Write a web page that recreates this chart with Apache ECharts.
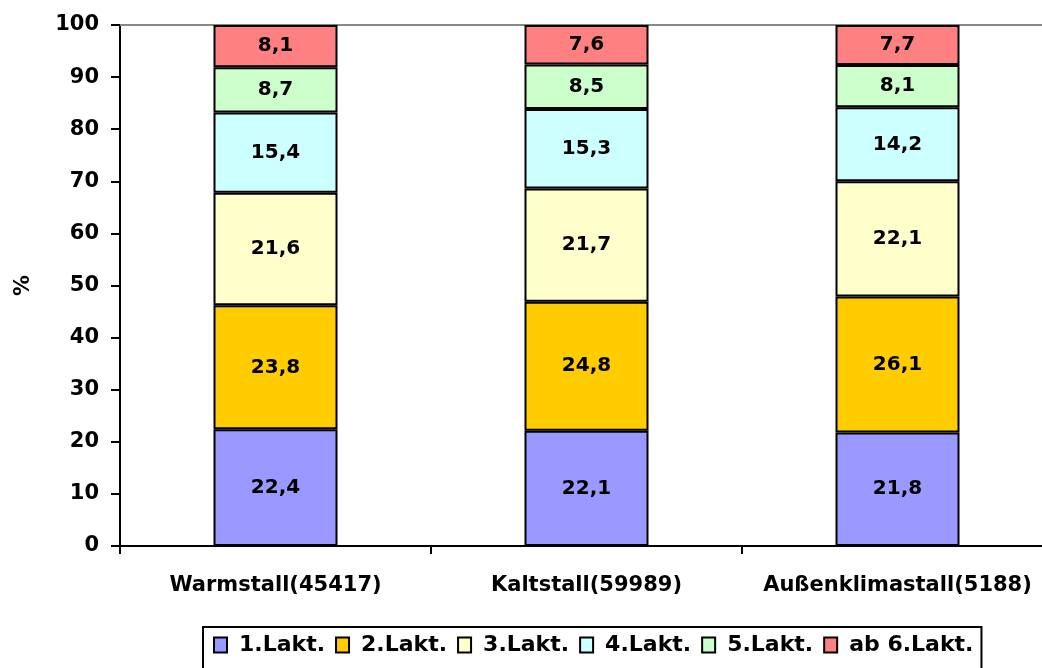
<!DOCTYPE html>
<html>
<head>
<meta charset="utf-8">
<script src="https://cdn.jsdelivr.net/npm/echarts@6/dist/echarts.min.js"></script>
<style>
  html, body { margin: 0; padding: 0; background: #fff; overflow: hidden; }
  #chart { width: 1042px; height: 668px; }
</style>
</head>
<body>
<div id="chart"></div>
<script>
  // Laktationsverteilung je Stallart (%)
  var categories = ['Warmstall(45417)', 'Kaltstall(59989)', 'Außenklimastall(5188)'];
  var seriesNames = ['1.Lakt.', '2.Lakt.', '3.Lakt.', '4.Lakt.', '5.Lakt.', 'ab 6.Lakt.'];
  var lakt1 = [22.4, 22.1, 21.8];
  var lakt2 = [23.8, 24.8, 26.1];
  var lakt3 = [21.6, 21.7, 22.1];
  var lakt4 = [15.4, 15.3, 14.2];
  var lakt5 = [8.7, 8.5, 8.1];
  var lakt6 = [8.1, 7.6, 7.7];
  var yTicks = [0, 10, 20, 30, 40, 50, 60, 70, 80, 90, 100];

  var colors = ['#9999ff', '#ffcc00', '#ffffcc', '#ccffff', '#ccffcc', '#ff8080'];
  var values = [lakt1, lakt2, lakt3, lakt4, lakt5, lakt6];
  var font = 'DejaVu Sans';

  var chart = echarts.init(document.getElementById('chart'));

  var series = seriesNames.map(function (name, i) {
    return {
      name: name,
      type: 'bar',
      stack: 'total',
      barWidth: 124,
      data: values[i],
      itemStyle: { color: colors[i], borderColor: '#000', borderWidth: 2 },
      label: {
        show: true,
        position: 'inside',
        color: '#000',
        fontFamily: font,
        fontWeight: 'bold',
        fontSize: 20,
        formatter: function (p) { return String(p.value).replace('.', ','); }
      }
    };
  });

  chart.setOption({
    animation: false,
    grid: { left: 120, top: 25, width: 933, bottom: 122, outerBoundsMode: 'none' },
    legend: {
      data: seriesNames,
      icon: 'rect',
      left: 203,
      top: 627,
      padding: [7, 8, 14, 10],
      borderColor: '#000',
      borderWidth: 2,
      itemWidth: 13,
      itemHeight: 15,
      itemGap: 10,
      textStyle: {
        color: '#000', fontFamily: font, fontWeight: 'bold', fontSize: 22,
        padding: [0, 0, 0, 7]
      }
    },
    xAxis: [{
      type: 'category',
      data: categories,
      axisLine: { lineStyle: { color: '#000', width: 2 } },
      axisTick: { show: true, interval: 0, length: 8, lineStyle: { color: '#000', width: 2 } },
      axisLabel: {
        interval: 0, color: '#000', fontFamily: font, fontWeight: 'bold', fontSize: 21, margin: 29
      }
    }, {
      type: 'category',
      position: 'top',
      data: categories,
      axisLine: { lineStyle: { color: '#888', width: 2 } },
      axisTick: { show: false },
      axisLabel: { show: false }
    }],
    yAxis: {
      type: 'value',
      min: yTicks[0],
      max: yTicks[yTicks.length - 1],
      interval: yTicks[1] - yTicks[0],
      name: '%',
      nameLocation: 'middle',
      nameRotate: 90,
      nameGap: 86,
      nameTextStyle: { color: '#000', fontFamily: font, fontWeight: 'bold', fontSize: 21 },
      axisLine: { show: true, lineStyle: { color: '#000', width: 2 } },
      axisTick: { show: true, length: 9, lineStyle: { color: '#000', width: 2 } },
      axisLabel: { color: '#000', fontFamily: font, fontWeight: 'bold', fontSize: 21, margin: 21 },
      splitLine: { show: false }
    },
    series: series
  });
</script>
</body>
</html>
